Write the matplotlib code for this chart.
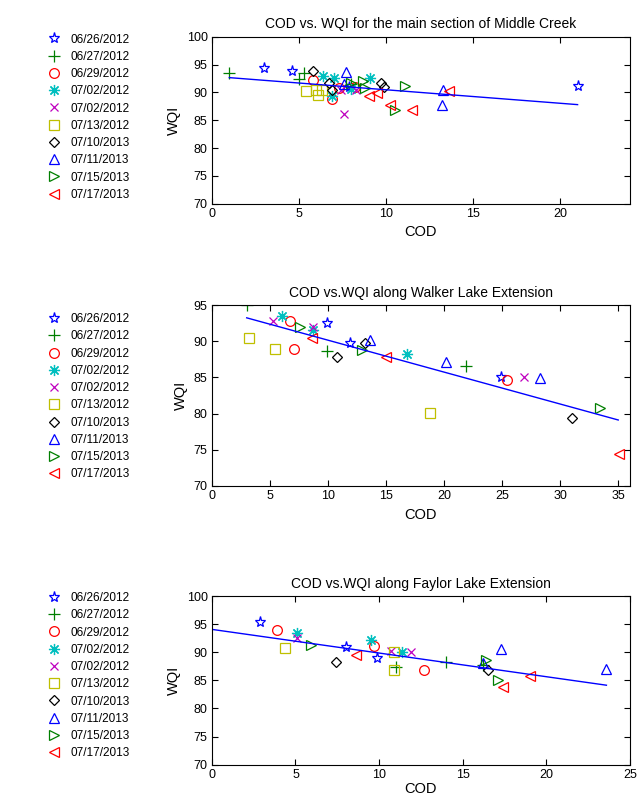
import numpy as np
import matplotlib
matplotlib.use('Agg')
import matplotlib.pyplot as plt

plt.rcParams['font.family'] = ['Liberation Sans', 'DejaVu Sans']

# legend labels (same dates in each panel)
dates = ['06/26/2012', '06/27/2012', '06/29/2012', '07/02/2012', '07/02/2012',
         '07/13/2012', '07/10/2013', '07/11/2013', '07/15/2013', '07/17/2013']

# main section of Middle Creek
main_cod = [
    [3.0, 4.6, 7.9, 21.0],
    [1.0, 5.0, 5.3, 8.0],
    [5.8, 6.9, 7.3, 8.2],
    [6.4, 7.0, 9.1, 6.9, 8.0],
    [7.6, 8.3, 7.4],
    [5.4, 6.0, 6.1, 6.3],
    [5.8, 6.7, 9.7, 9.9, 6.9],
    [7.7, 7.6, 13.3, 13.2],
    [8.7, 8.8, 11.1, 10.5, 8.0],
    [9.0, 9.5, 10.2, 11.5, 13.6],
]
main_wqi = [
    [94.4, 93.9, 91.0, 91.2],
    [93.5, 92.5, 93.5, 91.5],
    [92.3, 88.9, 90.8, 91.0],
    [92.9, 92.6, 92.6, 89.3, 90.7],
    [86.2, 90.5, 90.4],
    [90.3, 90.4, 89.6, 90.4],
    [93.8, 91.7, 91.7, 91.0, 90.5],
    [93.7, 91.5, 90.5, 87.8],
    [92.0, 90.8, 91.2, 86.9, 91.7],
    [89.3, 89.9, 87.7, 86.9, 90.3],
]

# Walker Lake Extension
walker_cod = [
    [9.9, 11.9, 24.9],
    [3.0, 9.9, 21.9],
    [6.7, 7.1, 25.4],
    [6.0, 8.7, 16.8],
    [5.3, 8.7, 26.9],
    [3.2, 5.4, 18.8],
    [10.8, 13.2, 31.0],
    [13.6, 20.2, 28.3],
    [7.6, 12.9, 33.4],
    [8.6, 15.0, 35.1],
]
walker_wqi = [
    [92.5, 89.8, 85.1],
    [95.0, 88.6, 86.6],
    [92.8, 88.9, 84.7],
    [93.5, 91.5, 88.2],
    [92.8, 92.0, 85.1],
    [90.4, 88.9, 80.1],
    [87.8, 89.7, 79.4],
    [90.2, 87.2, 84.9],
    [92.0, 88.8, 80.8],
    [90.4, 87.9, 74.4],
]

# Faylor Lake Extension
faylor_cod = [
    [2.9, 8.0, 9.9],
    [11.0, 14.0, 16.2],
    [3.9, 9.7, 12.7],
    [5.1, 9.5, 11.4],
    [5.1, 10.7, 11.9],
    [4.4, 10.9, 10.9],
    [7.4, 16.5],
    [17.3, 16.2, 23.6],
    [5.9, 16.4, 17.1],
    [8.6, 17.4, 19.0],
]
faylor_wqi = [
    [95.4, 90.9, 89.0],
    [87.3, 88.3, 87.8],
    [94.0, 91.1, 86.9],
    [93.5, 92.1, 90.1],
    [92.6, 90.3, 90.0],
    [90.8, 90.1, 86.9],
    [88.3, 86.9],
    [90.5, 88.0, 87.1],
    [91.3, 88.7, 85.1],
    [89.5, 83.9, 85.7],
]

# fitted lines: slope, intercept, x range
main_fit = (-0.2425, 92.9, 1.0, 21.0)
walker_fit = (-0.442, 94.58, 3.0, 35.0)
faylor_fit = (-0.421, 94.07, 0.0, 23.6)

markers = ['*', '+', 'o', (8, 2, 0), 'x', 's', 'D', '^', '>', '<']
sizes = [8, 8, 7, 8, 6, 6.5, 5.5, 7, 7, 7]
colors = ['#0000ff', '#007f00', '#ff0000', '#00bfbf', '#bf00bf',
          '#bfbf00', '#000000', '#0000ff', '#007f00', '#ff0000']

fig = plt.figure(figsize=(6.44, 7.99), dpi=100)


def panel(rect, cods, wqis, fit, title, xlim, ylim, yticks, legend_top, xpad=4):
    ax = fig.add_axes(rect)
    for i in range(len(dates)):
        ax.plot(cods[i], wqis[i], linestyle='none', marker=markers[i],
                markersize=sizes[i], markerfacecolor='none',
                markeredgecolor=colors[i], markeredgewidth=0.9, label=dates[i])
    slope, icpt, x0, x1 = fit
    xs = np.array([x0, x1])
    ax.plot(xs, slope * xs + icpt, color='#0000ff', lw=1.0)
    ax.set_xlim(*xlim)
    ax.set_ylim(*ylim)
    ax.set_yticks(yticks)
    ax.tick_params(direction='in', top=True, right=True, labelsize=9,
                   length=4, width=0.8, pad=3)
    for s in ax.spines.values():
        s.set_linewidth(0.8)
    ax.set_title(title, fontsize=10, pad=6)
    ax.set_xlabel('COD', fontsize=10.5, labelpad=xpad)
    ax.set_ylabel('WQI', fontsize=10.5, labelpad=4)
    ax.legend(loc='upper left', bbox_to_anchor=(0.075, legend_top),
              bbox_transform=fig.transFigure, frameon=False, fontsize=8.5,
              handlelength=1.0, handletextpad=0.9, labelspacing=0.445,
              borderpad=0, borderaxespad=0)
    return ax


panel([0.329, 0.745, 0.649, 0.209], main_cod, main_wqi, main_fit,
      'COD vs. WQI for the main section of Middle Creek',
      (0, 24), (70, 100), range(70, 101, 5), 0.958)
panel([0.329, 0.392, 0.649, 0.226], walker_cod, walker_wqi, walker_fit,
      'COD vs.WQI along Walker Lake Extension',
      (0, 36), (70, 95), range(70, 96, 5), 0.608)
panel([0.329, 0.043, 0.649, 0.211], faylor_cod, faylor_wqi, faylor_fit,
      'COD vs.WQI along Faylor Lake Extension',
      (0, 25), (70, 100), range(70, 101, 5), 0.259, xpad=1)

fig.savefig('out.png', dpi=100)
